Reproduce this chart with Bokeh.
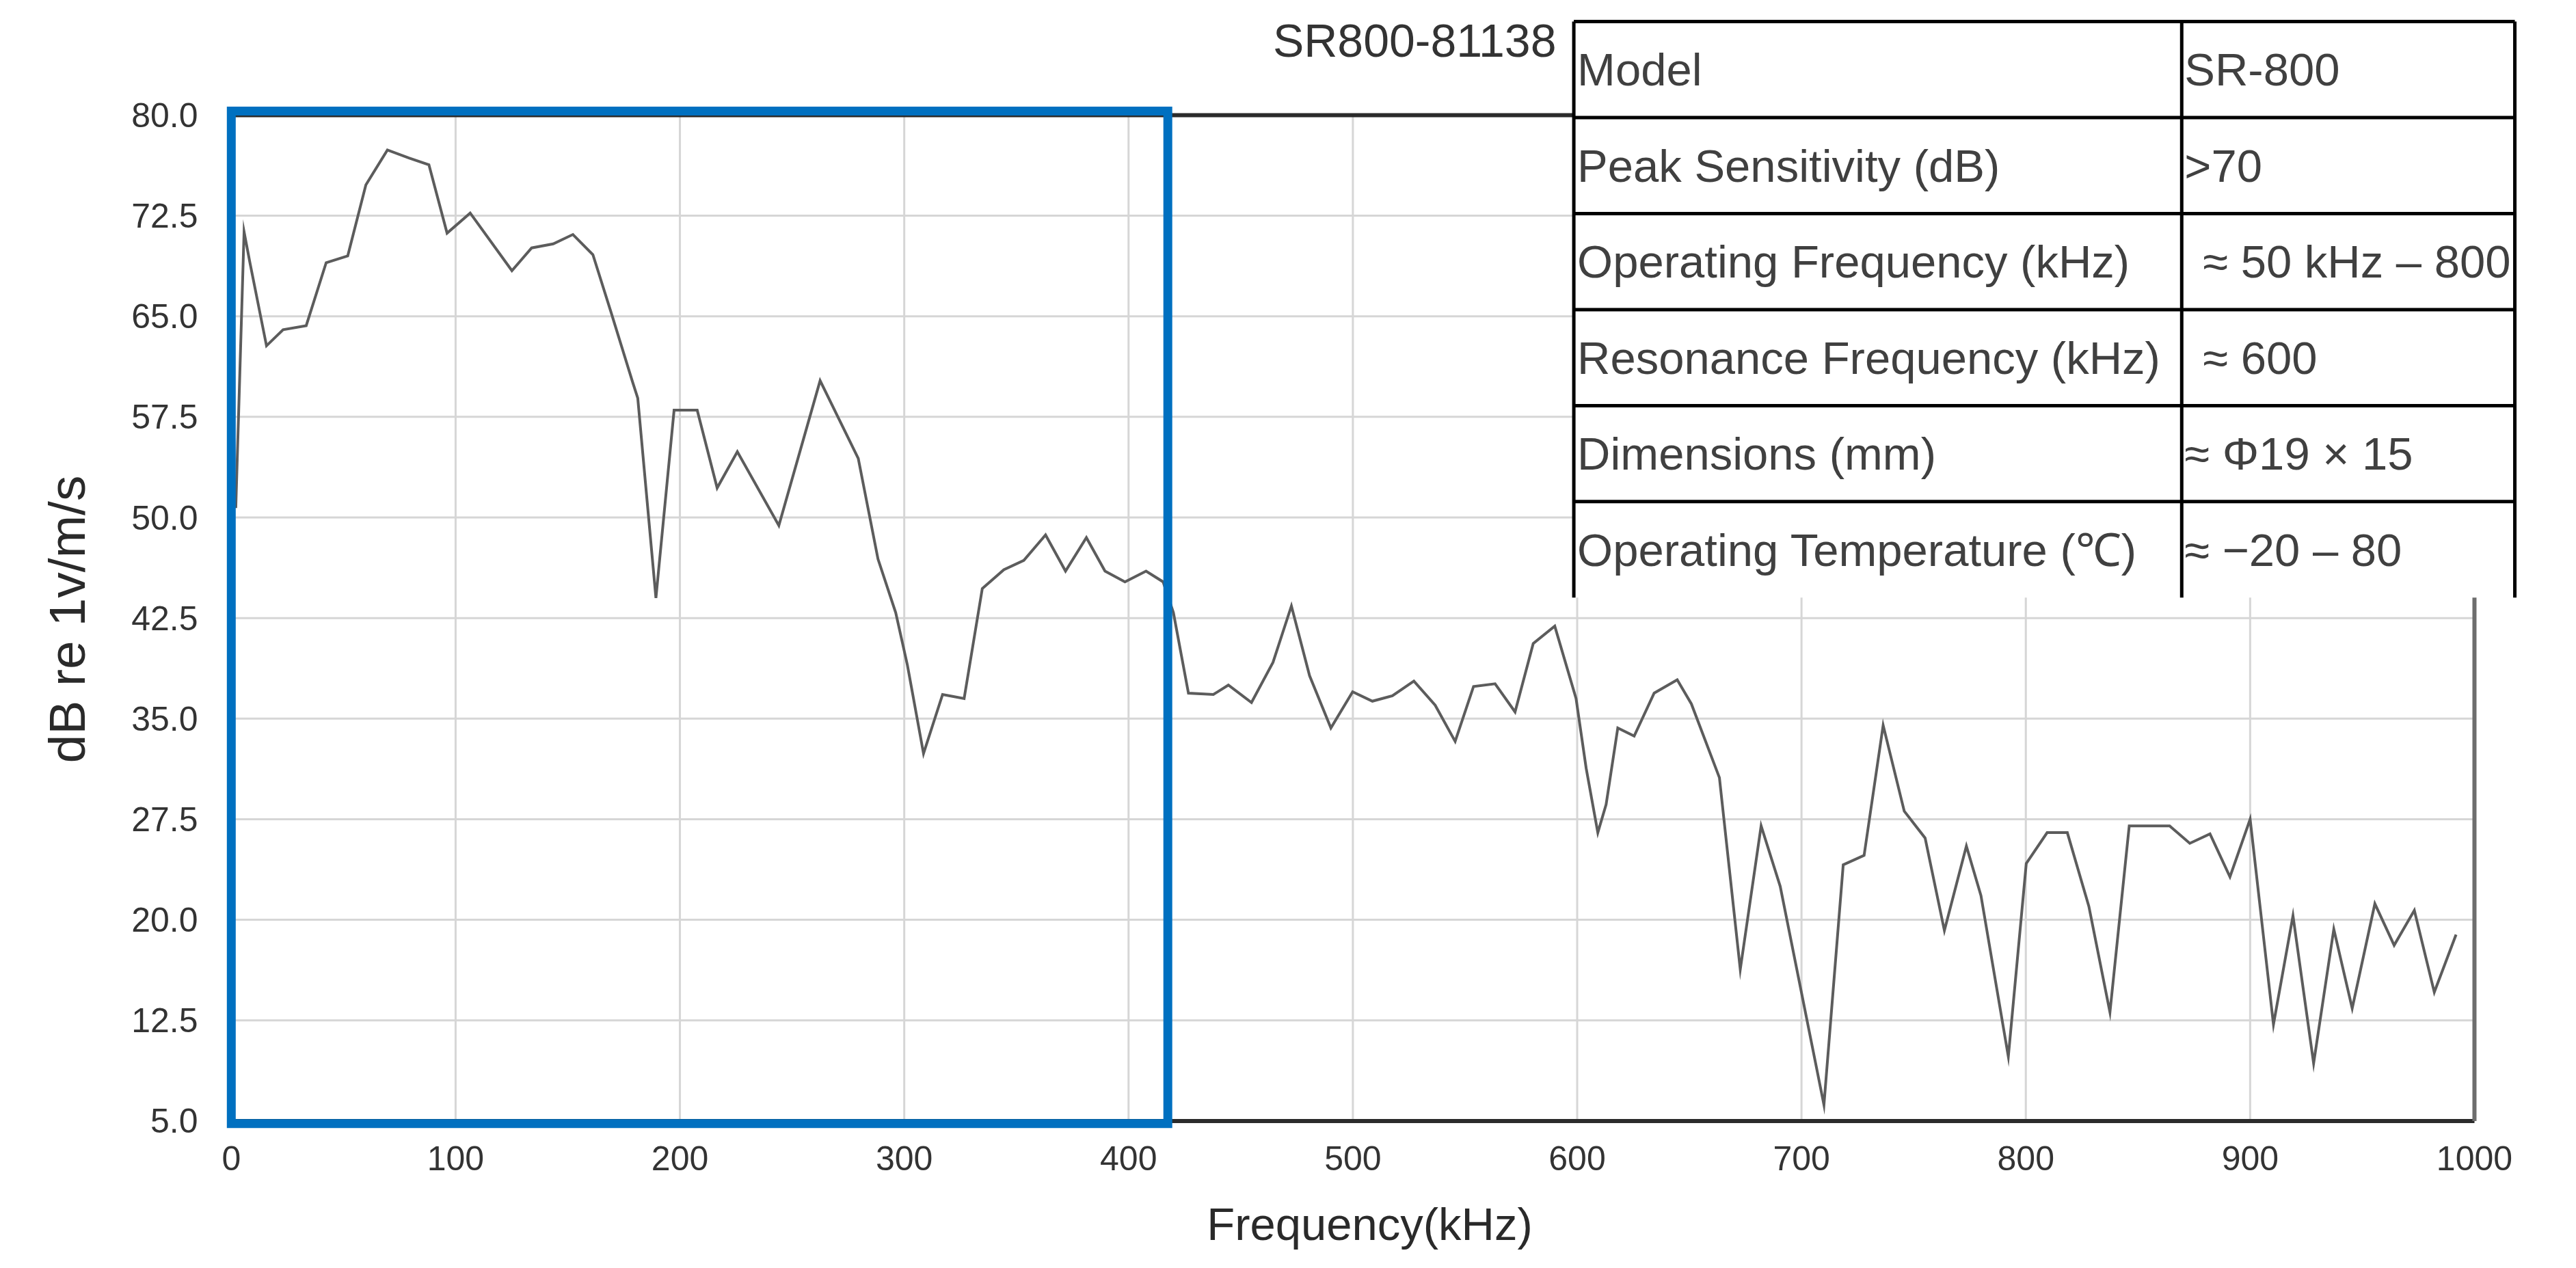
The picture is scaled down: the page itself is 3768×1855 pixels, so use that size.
from bokeh.plotting import figure
from bokeh.models import Range1d, FixedTicker, PrintfTickFormatter, ColumnDataSource, Title
from bokeh.core.properties import value
from bokeh.embed import file_html
from bokeh.resources import INLINE

# ---------------- data ----------------
freq_khz = [2, 5.7, 8.3, 15.7, 23.1, 33.4, 42.3, 51.9, 60.0, 69.6, 79.2, 88.1, 96.2, 106.5,
            125.1, 133.9, 143.5, 152.3, 161.2, 169.3, 178.9, 181.2, 189.3, 197.4, 207.7, 216.6,
            225.6, 244.1, 262.5, 279.5, 288.3, 296.2, 301.4, 308.6, 317.1, 326.7, 334.8, 344.4,
            353.3, 363.0, 371.9, 381.2, 389.5, 398.4, 407.8, 415.4, 420.0, 426.7, 437.8, 444.5,
            454.8, 464.4, 472.6, 480.7, 490.2, 499.9, 508.7, 517.6, 527.2, 536.7, 545.6, 553.8,
            563.4, 572.3, 580.4, 590.0, 599.5, 604.0, 609.2, 612.9, 618.1, 625.4, 634.3, 644.6,
            650.9, 663.4, 672.7, 682.0, 690.5, 710.0, 718.6, 727.9, 736.4, 745.8, 755.1, 763.7,
            773.5, 780.0, 792.2, 800.2, 809.5, 818.5, 828.1, 837.5, 846.1, 864.1, 873.1, 882.1,
            891.0, 900.0, 910.4, 919.1, 928.3, 937.3, 945.5, 955.6, 964.2, 973.2, 982.1, 991.8]
sensitivity_db = [50.7, 71.3, 69.0, 62.8, 64.0, 64.3, 69.0, 69.5, 74.8, 77.4, 76.8, 76.3, 71.2, 72.7,
                  68.4, 70.1, 70.4, 71.1, 69.6, 65.3, 60.1, 58.9, 44.0, 58.0, 58.0, 52.2,
                  54.9, 49.4, 60.2, 54.4, 46.9, 42.9, 39.0, 32.4, 36.8, 36.5, 44.7, 46.1,
                  46.8, 48.7, 46.0, 48.5, 46.0, 45.2, 46.0, 45.2, 42.9, 36.9, 36.8, 37.5,
                  36.2, 39.2, 43.4, 38.2, 34.3, 37.0, 36.3, 36.7, 37.8, 36.0, 33.3, 37.4,
                  37.6, 35.5, 40.6, 41.9, 36.5, 31.3, 26.5, 28.6, 34.3, 33.7, 36.9, 37.9,
                  36.1, 30.6, 16.3, 27.0, 22.5, 6.2, 24.1, 24.8, 34.5, 28.1, 26.1, 19.2,
                  25.5, 21.8, 9.8, 24.2, 26.5, 26.5, 21.0, 13.1, 27.0, 27.0, 25.7, 26.4,
                  23.2, 27.5, 12.2, 20.3, 9.3, 19.3, 13.4, 21.2, 18.1, 20.7, 14.6, 18.9]

x_ticks = [0, 100, 200, 300, 400, 500, 600, 700, 800, 900, 1000]
y_ticks = [5.0, 12.5, 20.0, 27.5, 35.0, 42.5, 50.0, 57.5, 65.0, 72.5, 80.0]

chart_title = "SR800-81138"
x_label = "Frequency(kHz)"
y_label = "dB re 1v/m/s"

# highlighted band (0 - ~417 kHz)
highlight_x = [0, 417.5]
highlight_y = [4.8, 80.3]

table_labels = ["Model", "Peak Sensitivity (dB)", "Operating Frequency (kHz)",
                "Resonance Frequency (kHz)", "Dimensions (mm)", "Operating Temperature (\u2103)"]
table_values = ["SR-800", ">70", "\u2248 50 kHz \u2013 800", "\u2248 600",
                "\u2248 \u03a619 \u00d7 15", "\u2248 \u221220 \u2013 80"]

# ---------------- layout / style ----------------
FONT = "Liberation Sans"
X0, X1 = x_ticks[0], x_ticks[-1]
Y0, Y1 = y_ticks[0], y_ticks[-1]

# table geometry (data units of the figure)
T_LEFT, T_MID, T_RIGHT = 598.5, 869.5, 1018.0
T_TOP, ROW_H = 86.98, 7.16
n_rows = len(table_labels)
T_BOTTOM = T_TOP - n_rows * ROW_H

p = figure(width=3752, height=1839, output_backend="svg", toolbar_location=None,
           x_range=Range1d(-10, 1025), y_range=Range1d(4.0, 87.54),
           min_border_left=305, min_border_right=51, min_border_top=20, min_border_bottom=180)
p.outline_line_color = None
p.xgrid.visible = False
p.ygrid.visible = False
p.background_fill_color = "white"
p.border_fill_color = "white"

for ax in (p.xaxis, p.yaxis):
    ax.axis_line_color = None
    ax.major_tick_line_color = None
    ax.minor_tick_line_color = None
    ax.major_tick_in = 0
    ax.major_tick_out = 0
    ax.minor_tick_in = 0
    ax.minor_tick_out = 0
    ax.major_label_text_font = FONT
    ax.major_label_text_color = "#333333"
    ax.major_label_text_font_size = "50px"
    ax.axis_label_text_font = FONT
    ax.axis_label_text_font_style = "normal"
    ax.axis_label_text_color = "#2a2a2a"

p.xaxis.ticker = FixedTicker(ticks=x_ticks)
p.xaxis.major_label_standoff = 17
p.xaxis.axis_label = x_label
p.xaxis.axis_label_text_font_size = "67px"
p.xaxis.axis_label_standoff = 38

p.yaxis.ticker = FixedTicker(ticks=y_ticks)
p.yaxis.formatter = PrintfTickFormatter(format="%.1f")
p.yaxis.major_label_standoff = 16

# y axis title, placed like the reference (lower than the frame centre)
p.add_layout(Title(text=y_label, align="left", offset=543, text_font=FONT,
                   text_font_size="75px", text_font_style="normal", text_color="#2a2a2a",
                   standoff=100), "left")

# grid lines (drawn only inside the chart box)
p.segment(x0=[X0] * len(y_ticks), x1=[X1] * len(y_ticks), y0=y_ticks, y1=y_ticks,
          line_color="#d6d6d6", line_width=3)
p.segment(x0=x_ticks, x1=x_ticks, y0=[Y0] * len(x_ticks), y1=[Y1] * len(x_ticks),
          line_color="#d6d6d6", line_width=3)

# chart frame
p.segment(x0=[X0, X0], x1=[X1, X1], y0=[Y1, Y0], y1=[Y1, Y0], line_color="#2b2b2b", line_width=6)
p.segment(x0=[X0], x1=[X0], y0=[Y0], y1=[Y1], line_color="#333333", line_width=6)
p.segment(x0=[X1], x1=[X1], y0=[Y0], y1=[Y1], line_color="#6e6e6e", line_width=6)

# response curve
p.line(freq_khz, sensitivity_db, line_color="#5c5c5c", line_width=4, line_join="miter")

# blue highlight box
p.quad(left=[highlight_x[0]], right=[highlight_x[1]], bottom=[highlight_y[0]], top=[highlight_y[1]],
       fill_color=None, line_color="#0070C0", line_width=13, line_join="miter")

# chart title
p.text(x=[590.7], y=[85.6], text=[chart_title], text_font=value(FONT), text_font_size="68px",
       text_color="#333333", text_align="right", text_baseline="middle")

# specification table
p.quad(left=[T_LEFT], right=[T_RIGHT], bottom=[T_BOTTOM], top=[T_TOP],
       fill_color="white", line_color=None)
row_tops = [T_TOP - i * ROW_H for i in range(n_rows)]
p.segment(x0=[T_LEFT] * n_rows, x1=[T_RIGHT] * n_rows, y0=row_tops, y1=row_tops,
          line_color="black", line_width=5)
p.segment(x0=[T_LEFT, T_MID, T_RIGHT], x1=[T_LEFT, T_MID, T_RIGHT],
          y0=[T_TOP] * 3, y1=[T_BOTTOM] * 3, line_color="black", line_width=5)

row_mid = [t - ROW_H / 2 for t in row_tops]
value_pad = [4, 4, 31, 31, 4, 4]
tsrc = ColumnDataSource(dict(xl=[T_LEFT] * n_rows, xv=[T_MID] * n_rows, y=row_mid,
                             lab=table_labels, val=table_values, pad=value_pad))
p.text(x="xl", y="y", text="lab", source=tsrc, x_offset=5, text_font=value(FONT),
       text_font_size="67px", text_color="#404040", text_align="left", text_baseline="middle")
p.text(x="xv", y="y", text="val", source=tsrc, x_offset="pad", text_font=value(FONT),
       text_font_size="67px", text_color="#404040", text_align="left", text_baseline="middle")

open("out.html", "w").write(file_html(p, INLINE))
